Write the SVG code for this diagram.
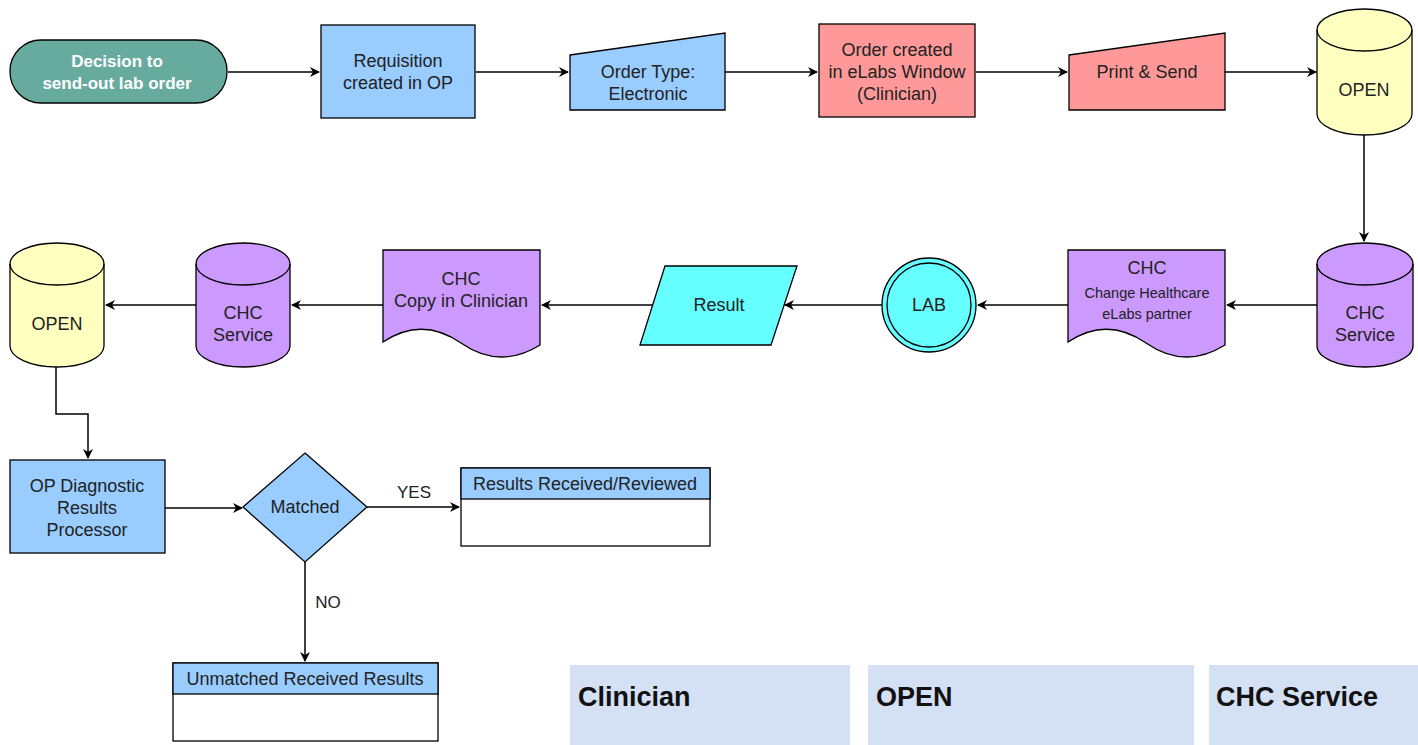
<svg xmlns="http://www.w3.org/2000/svg" width="1418" height="745" viewBox="0 0 1418 745">
<defs>
<marker id="arr" viewBox="0 0 10 10" refX="9" refY="5" markerWidth="10" markerHeight="10" markerUnits="userSpaceOnUse" orient="auto">
<path d="M0,0 L10,5 L0,10 L3,5 Z" fill="#000"/>
</marker>
<style>
.s{stroke:#000;stroke-width:1.3}
.t{font-family:"Liberation Sans",Arial,sans-serif;font-size:18px;fill:#222;text-anchor:middle}
.ts{font-size:14.5px}
.tw{fill:#fff;font-weight:bold;font-size:17px}
.c{fill:none;stroke:#000;stroke-width:1.5}
.lbl{font-family:"Liberation Sans",Arial,sans-serif;font-size:17px;fill:#222;text-anchor:middle}
.ph{font-family:"Liberation Sans",Arial,sans-serif;font-size:27px;font-weight:bold;fill:#111}
.teal{fill:#67AB9F}.blue{fill:#99CCFF}.red{fill:#FF9999}.yel{fill:#FFFFC0}.pur{fill:#CC99FF}.cyan{fill:#66FFFF}
.panel{fill:#D4E1F5}
</style>
</defs>
<rect width="1418" height="745" fill="#fff"/>

<g id="connectors">
<path class="c" d="M228,72 H319" marker-end="url(#arr)"/>
<path class="c" d="M476,72 H568" marker-end="url(#arr)"/>
<path class="c" d="M725,72 H817" marker-end="url(#arr)"/>
<path class="c" d="M976,72 H1067" marker-end="url(#arr)"/>
<path class="c" d="M1225,72 H1316" marker-end="url(#arr)"/>
<path class="c" d="M1364,135 V241" marker-end="url(#arr)"/>
<path class="c" d="M1317,305 H1227" marker-end="url(#arr)"/>
<path class="c" d="M1068,305 H978" marker-end="url(#arr)"/>
<path class="c" d="M882,305 H785" marker-end="url(#arr)"/>
<path class="c" d="M653,305 H542" marker-end="url(#arr)"/>
<path class="c" d="M383,305 H292" marker-end="url(#arr)"/>
<path class="c" d="M196,305 H106" marker-end="url(#arr)"/>
<path class="c" d="M56,367 V414 H88 V458" marker-end="url(#arr)"/>
<path class="c" d="M165,508 H242" marker-end="url(#arr)"/>
<path class="c" d="M367,507 H459" marker-end="url(#arr)"/>
<path class="c" d="M305,562 V661" marker-end="url(#arr)"/>
<text class="lbl" x="414" y="498">YES</text>
<text class="lbl" x="328" y="608">NO</text>
</g>

<g id="decision">
<rect class="teal s" x="10" y="40" width="217" height="63" rx="31" ry="31"/>
<text class="t tw" x="117" y="67">Decision to</text>
<text class="t tw" x="117" y="89">send-out lab order</text>
</g>

<g id="requisition">
<rect class="blue s" x="321" y="25" width="154" height="93"/>
<text class="t" x="398" y="67">Requisition</text>
<text class="t" x="398" y="89">created in OP</text>
</g>

<g id="order-type">
<path class="blue s" d="M570,55 L725,33 V110 H570 Z"/>
<text class="t" x="648" y="78">Order Type:</text>
<text class="t" x="648" y="100">Electronic</text>
</g>

<g id="order-created">
<rect class="red s" x="819" y="24" width="156" height="93"/>
<text class="t" x="897" y="56">Order created</text>
<text class="t" x="897" y="78">in eLabs Window</text>
<text class="t" x="897" y="100">(Clinician)</text>
</g>

<g id="print-send">
<path class="red s" d="M1069,55 L1225,33 V110 H1069 Z"/>
<text class="t" x="1147" y="78">Print &amp; Send</text>
</g>

<g id="open-top">
<path class="yel s" d="M1317,30 A47.5,21 0 0 1 1412,30 V114 A47.5,21 0 0 1 1317,114 Z"/>
<path class="s" fill="none" d="M1317,30 A47.5,21 0 0 0 1412,30"/>
<text class="t" x="1364" y="96">OPEN</text>
</g>

<g id="chc-service-right">
<path class="pur s" d="M1317,264 A48,21 0 0 1 1413,264 V346 A48,21 0 0 1 1317,346 Z"/>
<path class="s" fill="none" d="M1317,264 A48,21 0 0 0 1413,264"/>
<text class="t" x="1365" y="319">CHC</text>
<text class="t" x="1365" y="341">Service</text>
</g>

<g id="chc-partner">
<path class="pur s" d="M1068,250 H1225 V345 Q1185,370 1146,343 Q1107,316 1068,342 Z"/>
<text class="t" x="1147" y="274">CHC</text>
<text class="t ts" x="1147" y="298">Change Healthcare</text>
<text class="t ts" x="1147" y="319">eLabs partner</text>
</g>

<g id="lab">
<circle class="cyan s" cx="929" cy="305" r="47"/>
<circle class="s" fill="none" cx="929" cy="305" r="42"/>
<text class="t" x="929" y="311">LAB</text>
</g>

<g id="result">
<path class="cyan s" d="M665,266 H797 L771,345 H640 Z"/>
<text class="t" x="719" y="311">Result</text>
</g>

<g id="chc-copy">
<path class="pur s" d="M383,250 H540 V345 Q500,370 461,343 Q422,316 383,342 Z"/>
<text class="t" x="461" y="285">CHC</text>
<text class="t" x="461" y="307">Copy in Clinician</text>
</g>

<g id="chc-service-left">
<path class="pur s" d="M196,264 A47,21 0 0 1 290,264 V346 A47,21 0 0 1 196,346 Z"/>
<path class="s" fill="none" d="M196,264 A47,21 0 0 0 290,264"/>
<text class="t" x="243" y="319">CHC</text>
<text class="t" x="243" y="341">Service</text>
</g>

<g id="open-left">
<path class="yel s" d="M10,264 A47,21 0 0 1 104,264 V346 A47,21 0 0 1 10,346 Z"/>
<path class="s" fill="none" d="M10,264 A47,21 0 0 0 104,264"/>
<text class="t" x="57" y="330">OPEN</text>
</g>

<g id="op-diagnostic">
<rect class="blue s" x="10" y="460" width="155" height="93"/>
<text class="t" x="87" y="492">OP Diagnostic</text>
<text class="t" x="87" y="514">Results</text>
<text class="t" x="87" y="536">Processor</text>
</g>

<g id="matched">
<path class="blue s" d="M305,453 L367,507 L305,562 L243,507 Z"/>
<text class="t" x="305" y="513">Matched</text>
</g>

<g id="results-received">
<rect class="s" fill="#fff" x="461" y="468" width="249" height="78"/>
<rect class="blue s" x="461" y="468" width="249" height="31"/>
<text class="t" x="585" y="490">Results Received/Reviewed</text>
</g>

<g id="unmatched">
<rect class="s" fill="#fff" x="173" y="663" width="265" height="78"/>
<rect class="blue s" x="173" y="663" width="265" height="31"/>
<text class="t" x="305" y="685">Unmatched Received Results</text>
</g>

<g id="panel-clinician">
<rect class="panel" x="570" y="665" width="280" height="85"/>
<text class="ph" x="578" y="706">Clinician</text>
</g>
<g id="panel-open">
<rect class="panel" x="868" y="665" width="326" height="85"/>
<text class="ph" x="876" y="706">OPEN</text>
</g>
<g id="panel-chc">
<rect class="panel" x="1209" y="665" width="215" height="85"/>
<text class="ph" x="1216" y="706">CHC Service</text>
</g>
</svg>
